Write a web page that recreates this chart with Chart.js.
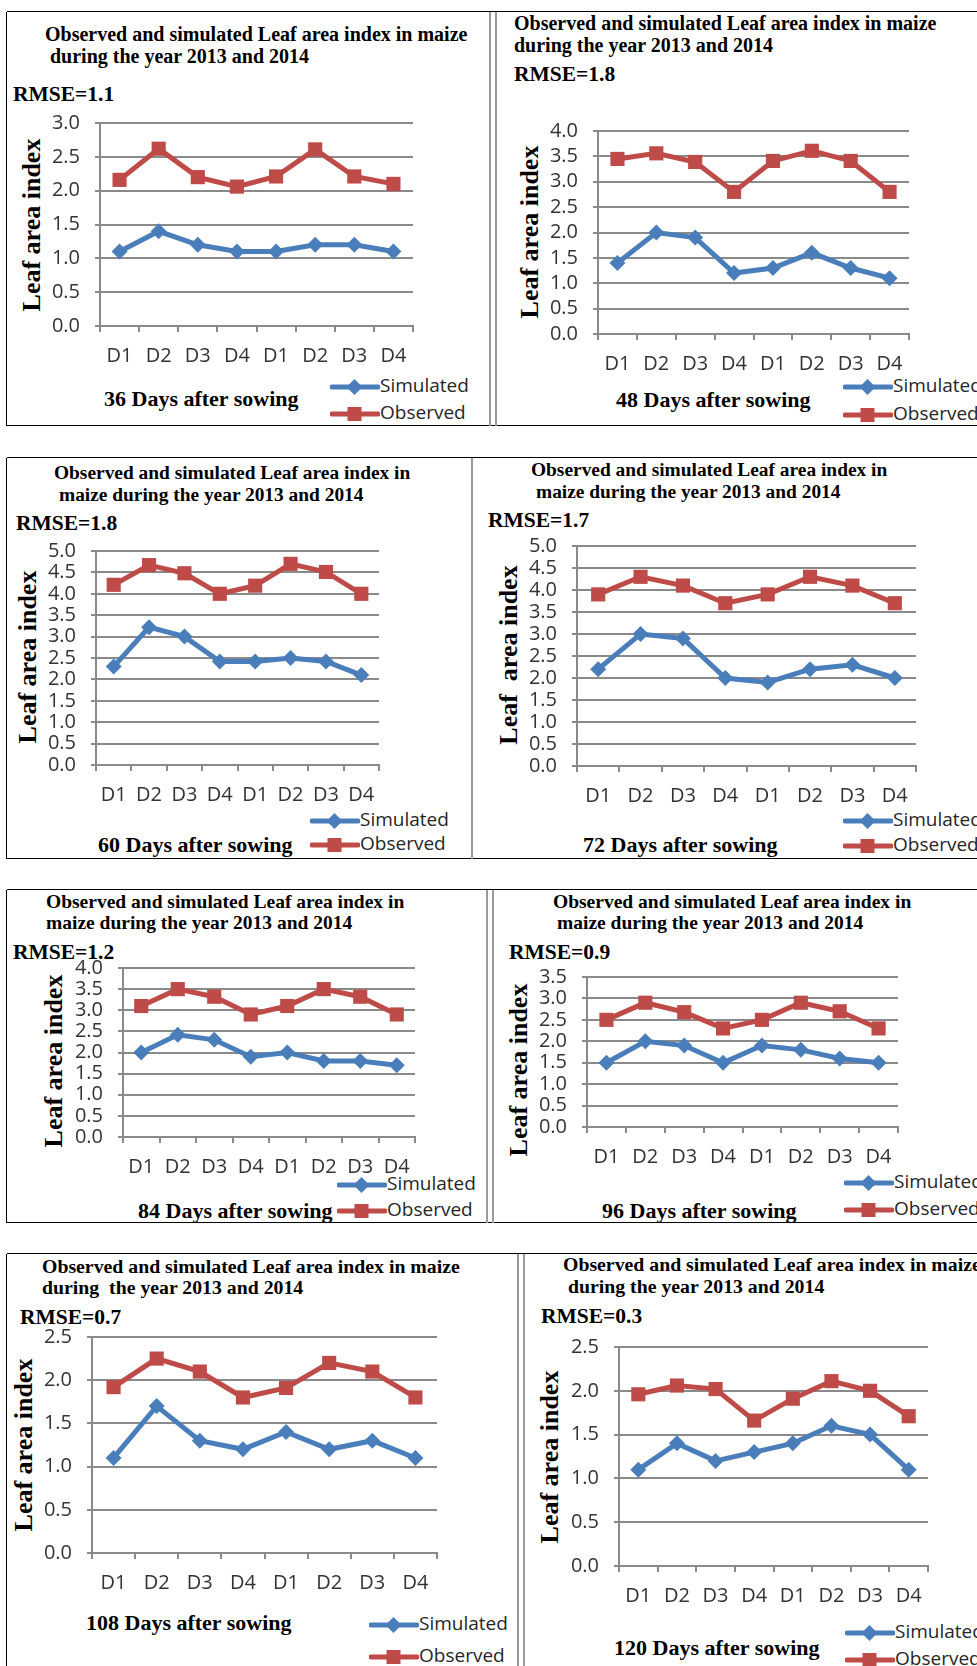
<!DOCTYPE html>
<html>
<head>
<meta charset="utf-8">
<script src="https://cdn.jsdelivr.net/npm/chart.js@4.4.1/dist/chart.umd.min.js"></script>
<style>
  html, body { margin: 0; padding: 0; background: #fff; }
  #page { position: relative; width: 977px; height: 1666px; overflow: hidden; background: #fff; }
  .hl { position: absolute; height: 0; border-top: 1.5px solid #000; }
  .vl { position: absolute; width: 0; border-left: 1.5px solid #000; }
  .gv { position: absolute; width: 2px; background: #9a9a9a; }
  .serif { position: absolute; font-family: "Liberation Serif", "Times New Roman", serif; font-weight: bold; color: #000; white-space: pre; line-height: 1; }
  .ytitle { position: absolute; font-family: "Liberation Serif", "Times New Roman", serif; font-weight: bold; font-size: 26px; color: #000; white-space: pre; line-height: 1; transform: translate(-50%, -50%) rotate(-90deg); }
  .leg { position: absolute; font-family: "Open Sans", sans-serif; font-size: 19px; color: #262626; line-height: 1; white-space: pre; }
  canvas { position: absolute; }
</style>
</head>
<body>
<div id="page"></div>
<script>
// Leaf area index, maize 2013 and 2014: simulated vs observed, by sampling date
const categories = ['D1', 'D2', 'D3', 'D4', 'D1', 'D2', 'D3', 'D4'];

const simulated36 = [1.1, 1.4, 1.2, 1.1, 1.1, 1.2, 1.2, 1.1];
const observed36  = [2.16, 2.62, 2.2, 2.06, 2.21, 2.61, 2.21, 2.1];
const simulated48 = [1.4, 2.0, 1.9, 1.2, 1.3, 1.6, 1.3, 1.1];
const observed48  = [3.45, 3.56, 3.39, 2.8, 3.41, 3.61, 3.41, 2.8];
const simulated60 = [2.3, 3.22, 3.0, 2.42, 2.42, 2.5, 2.42, 2.1];
const observed60  = [4.21, 4.67, 4.48, 4.0, 4.19, 4.7, 4.51, 4.0];
const simulated72 = [2.2, 3.0, 2.9, 2.0, 1.9, 2.2, 2.3, 2.0];
const observed72  = [3.9, 4.3, 4.1, 3.7, 3.9, 4.3, 4.1, 3.7];
const simulated84 = [2.0, 2.42, 2.3, 1.9, 2.0, 1.8, 1.8, 1.7];
const observed84  = [3.1, 3.5, 3.32, 2.9, 3.1, 3.5, 3.32, 2.9];
const simulated96 = [1.5, 2.0, 1.9, 1.5, 1.9, 1.8, 1.6, 1.5];
const observed96  = [2.5, 2.9, 2.68, 2.3, 2.5, 2.9, 2.7, 2.3];
const simulated108 = [1.1, 1.7, 1.3, 1.2, 1.4, 1.2, 1.3, 1.1];
const observed108  = [1.92, 2.25, 2.1, 1.8, 1.91, 2.2, 2.1, 1.8];
const simulated120 = [1.1, 1.4, 1.2, 1.3, 1.4, 1.6, 1.5, 1.1];
const observed120  = [1.96, 2.06, 2.02, 1.66, 1.91, 2.11, 2.0, 1.71];

const rmseLabels = ['RMSE=1.1', 'RMSE=1.8', 'RMSE=1.8', 'RMSE=1.7', 'RMSE=1.2', 'RMSE=0.9', 'RMSE=0.7', 'RMSE=0.3'];
const dayLabels = ['36 Days after sowing', '48 Days after sowing', '60 Days after sowing', '72 Days after sowing',
                   '84 Days after sowing', '96 Days after sowing', '108 Days after sowing', '120 Days after sowing'];
const axisMaxima = [3.0, 4.0, 5.0, 5.0, 4.0, 3.5, 2.5, 2.5];
const seriesNames = ['Simulated', 'Observed'];

const TITLE_LONG = ['Observed and simulated Leaf area index in maize', 'during the year 2013 and 2014'];
const TITLE_SHORT = ['Observed and simulated Leaf area index in', 'maize during the year 2013 and 2014'];
const TITLE_LONG_B = ['Observed and simulated Leaf area index in maize', 'during  the year 2013 and 2014'];

const SIM_COLOR = '#4A7EBB';
const OBS_COLOR = '#BE4B48';
const GRID_COLOR = '#8a8a8a';
const TICK_FONT = { family: '"Open Sans", sans-serif', size: 20 };

// Page placement of each panel's pieces
const panels = [
  { sim: simulated36, obs: observed36, title: TITLE_LONG, t1: [45, 34], t2: [50, 56], tsize: 20, rm: [13, 95],
    plot: [100, 123, 413, 326], yt: [32, 225], ytext: 'Leaf area index', leg: [330, 387, 414], days: [104, 399] },
  { sim: simulated48, obs: observed48, title: TITLE_LONG, t1: [514, 23], t2: [514, 45], tsize: 20, rm: [514, 75],
    plot: [598, 131, 909, 334], yt: [530, 232], ytext: 'Leaf area index', leg: [843, 387, 415], days: [616, 400] },
  { sim: simulated60, obs: observed60, title: TITLE_SHORT, t1: [54, 473], t2: [59, 495], tsize: 19.4, rm: [16, 524],
    plot: [96, 551, 379, 765], yt: [28, 657], ytext: 'Leaf area index', leg: [310, 821, 845], days: [98, 845] },
  { sim: simulated72, obs: observed72, title: TITLE_SHORT, t1: [531, 470], t2: [536, 492], tsize: 19.4, rm: [488, 521],
    plot: [577, 546, 916, 766], yt: [509, 655], ytext: 'Leaf  area index', leg: [843, 821, 846], days: [583, 845] },
  { sim: simulated84, obs: observed84, title: TITLE_SHORT, t1: [46, 902], t2: [46, 923], tsize: 19.5, rm: [13, 953],
    plot: [123, 968, 415, 1137], yt: [54, 1061], ytext: 'Leaf area index', leg: [337, 1185, 1211], days: [138, 1211] },
  { sim: simulated96, obs: observed96, title: TITLE_SHORT, t1: [553, 902], t2: [557, 923], tsize: 19.5, rm: [509, 953],
    plot: [587, 977, 898, 1127], yt: [519, 1070], ytext: 'Leaf area index', leg: [844, 1183, 1210], days: [602, 1211] },
  { sim: simulated108, obs: observed108, title: TITLE_LONG_B, t1: [42, 1267], t2: [42, 1288], tsize: 19.8, rm: [20, 1318],
    plot: [92, 1337, 437, 1553], yt: [24, 1445], ytext: 'Leaf area index', leg: [369, 1625, 1657], days: [86, 1623] },
  { sim: simulated120, obs: observed120, title: TITLE_LONG, t1: [563, 1265], t2: [568, 1287], tsize: 19.8, rm: [541, 1317],
    plot: [619, 1347, 928, 1566], yt: [550, 1457], ytext: 'Leaf area index', leg: [845, 1633, 1660], days: [614, 1648] }
];

const page = document.getElementById('page');

function el(tag, cls, style, text) {
  const e = document.createElement(tag);
  if (cls) e.className = cls;
  Object.assign(e.style, style || {});
  if (text !== undefined) e.textContent = text;
  page.appendChild(e);
  return e;
}

// Panel frames
function hline(x1, x2, y) { el('div', 'hl', { left: x1 + 'px', top: (y - 0.75) + 'px', width: (x2 - x1) + 'px' }); }
function vline(x, y1, y2) { el('div', 'vl', { left: (x - 0.75) + 'px', top: y1 + 'px', height: (y2 - y1) + 'px' }); }
function gline(x, y1, y2) { el('div', 'gv', { left: (x - 1) + 'px', top: y1 + 'px', height: (y2 - y1) + 'px' }); }

hline(7, 977, 12); hline(7, 977, 426); vline(7, 12, 426); gline(490, 12, 426); gline(496, 12, 426);
hline(7, 977, 458); hline(7, 977, 859); vline(7, 458, 859); gline(472, 458, 859);
hline(7, 977, 890); hline(7, 977, 1223); vline(7, 890, 1223); gline(487, 890, 1223); gline(493, 890, 1223);
hline(7, 977, 1254); vline(7, 1254, 1666); gline(518, 1254, 1666); gline(524, 1254, 1666);

function legendIcon(x, y, color, square) {
  const ns = 'http://www.w3.org/2000/svg';
  const svg = document.createElementNS(ns, 'svg');
  svg.setAttribute('width', 50); svg.setAttribute('height', 18);
  Object.assign(svg.style, { position: 'absolute', left: x + 'px', top: (y - 9) + 'px' });
  const line = document.createElementNS(ns, 'line');
  line.setAttribute('x1', 2); line.setAttribute('x2', 48); line.setAttribute('y1', 9); line.setAttribute('y2', 9);
  line.setAttribute('stroke', color); line.setAttribute('stroke-width', 5); line.setAttribute('stroke-linecap', 'round');
  svg.appendChild(line);
  const m = document.createElementNS(ns, 'polygon');
  const cx = 24.5, cy = 9;
  const pts = square
    ? [[cx - 7, cy - 7], [cx + 7, cy - 7], [cx + 7, cy + 7], [cx - 7, cy + 7]]
    : [[cx, cy - 8], [cx + 8, cy], [cx, cy + 8], [cx - 8, cy]];
  m.setAttribute('points', pts.map(p => p.join(',')).join(' '));
  m.setAttribute('fill', color);
  svg.appendChild(m);
  page.appendChild(svg);
}

// Canvas margins around each plot area (room for tick labels and their padding)
const YW = 60, PT = 32, PR = 22, XH = 45;

panels.forEach((p, i) => {
  // Heading, RMSE note and sampling-day caption
  el('div', 'serif', { left: p.t1[0] + 'px', top: (p.t1[1] - p.tsize / 2) + 'px', fontSize: p.tsize + 'px' }, p.title[0]);
  el('div', 'serif', { left: p.t2[0] + 'px', top: (p.t2[1] - p.tsize / 2) + 'px', fontSize: p.tsize + 'px' }, p.title[1]);
  el('div', 'serif', { left: p.rm[0] + 'px', top: (p.rm[1] - 11) + 'px', fontSize: '21.5px' }, rmseLabels[i]);
  el('div', 'serif', { left: p.days[0] + 'px', top: (p.days[1] - 11) + 'px', fontSize: '22px' }, dayLabels[i]);
  el('div', 'ytitle', { left: p.yt[0] + 'px', top: p.yt[1] + 'px' }, p.ytext);

  // Legend
  legendIcon(p.leg[0], p.leg[1], SIM_COLOR, false);
  legendIcon(p.leg[0], p.leg[2], OBS_COLOR, true);
  el('div', 'leg', { left: (p.leg[0] + 50) + 'px', top: (p.leg[1] - 11) + 'px' }, seriesNames[0]);
  el('div', 'leg', { left: (p.leg[0] + 50) + 'px', top: (p.leg[2] - 11) + 'px' }, seriesNames[1]);

  // Chart canvas sized so the plot area lands on the panel's axes
  const [l, t, r, b] = p.plot;
  const cv = document.createElement('canvas');
  const w = (r - l) + YW + PR, h = (b - t) + PT + XH;
  cv.width = w; cv.height = h;
  Object.assign(cv.style, { left: (l - YW) + 'px', top: (t - PT) + 'px', width: w + 'px', height: h + 'px' });
  page.appendChild(cv);

  new Chart(cv, {
    type: 'line',
    data: {
      labels: categories,
      datasets: [
        { label: seriesNames[0], data: p.sim, borderColor: SIM_COLOR, backgroundColor: SIM_COLOR,
          borderWidth: 5, pointStyle: 'rectRot', pointRadius: 8, pointBorderWidth: 0, tension: 0 },
        { label: seriesNames[1], data: p.obs, borderColor: OBS_COLOR, backgroundColor: OBS_COLOR,
          borderWidth: 5, pointStyle: 'rect', pointRadius: 10, pointBorderWidth: 0, tension: 0 }
      ]
    },
    options: {
      responsive: false,
      animation: false,
      devicePixelRatio: 1,
      layout: { padding: { top: PT, right: PR, bottom: 0, left: 0 } },
      plugins: { legend: { display: false }, tooltip: { enabled: false } },
      scales: {
        x: {
          offset: true,
          grid: { offset: true, drawOnChartArea: false, drawTicks: true, tickLength: 6, color: GRID_COLOR, lineWidth: 2 },
          border: { color: GRID_COLOR, width: 2 },
          ticks: { font: TICK_FONT, color: '#333', padding: 12, maxRotation: 0, autoSkip: false },
          afterFit(s) { s.height = XH; }
        },
        y: {
          min: 0, max: axisMaxima[i],
          grid: { color: GRID_COLOR, lineWidth: 2, tickLength: 5 },
          border: { color: GRID_COLOR, width: 2 },
          ticks: { stepSize: 0.5, autoSkip: false, font: TICK_FONT, color: '#333', padding: 15,
                   callback: v => Number(v).toFixed(1) },
          afterFit(s) { s.width = YW; }
        }
      }
    }
  });
});
</script>
</body>
</html>
